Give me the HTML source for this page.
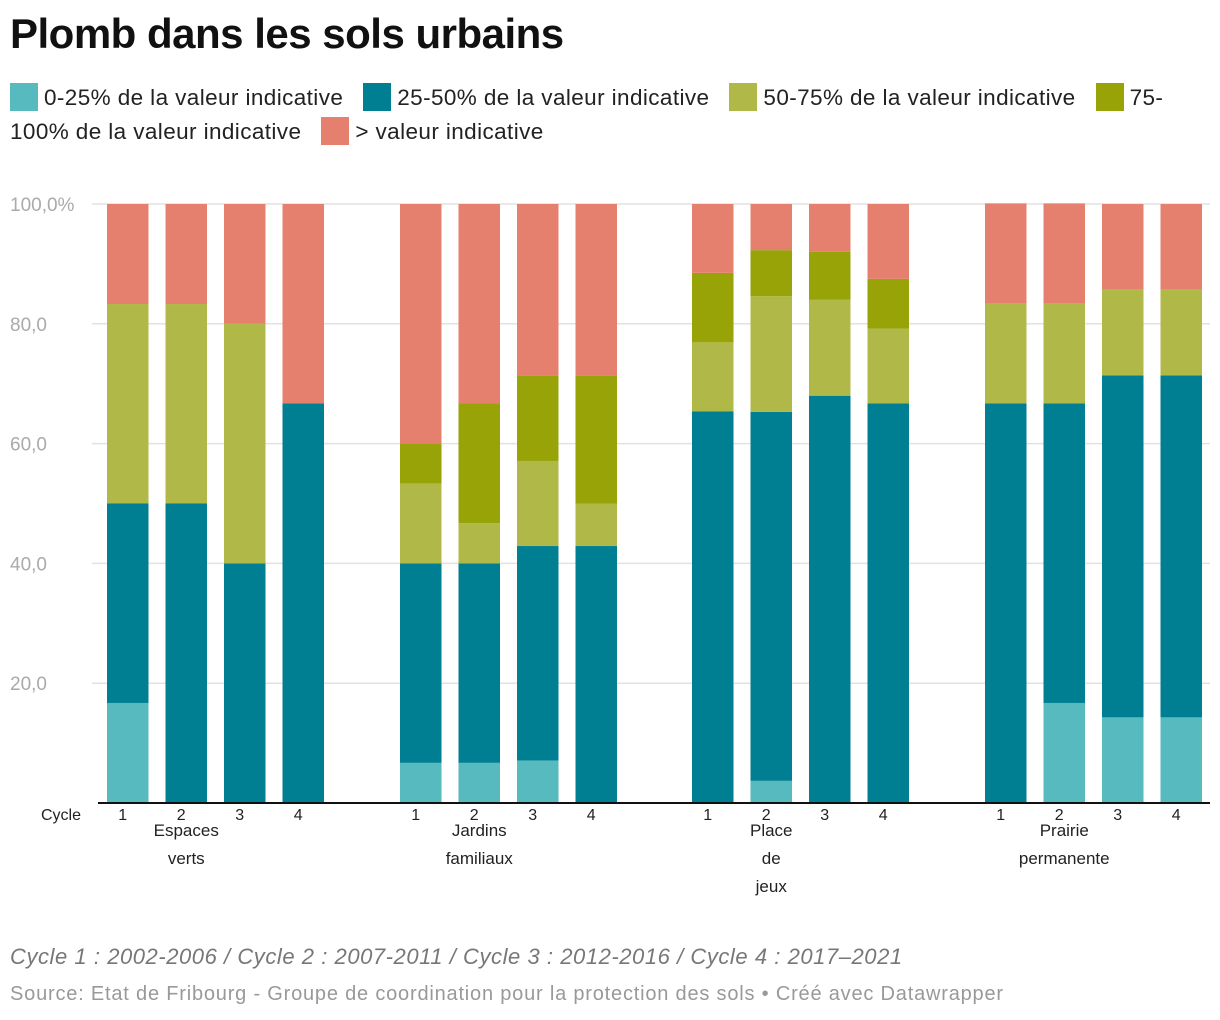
<!DOCTYPE html>
<html><head><meta charset="utf-8"><style>
body{margin:0;background:#fff;width:1220px;height:1020px;overflow:hidden;font-family:"Liberation Sans",sans-serif;position:relative}
.t{position:absolute;white-space:nowrap}
.sw{display:inline-block;width:28px;height:28px;vertical-align:-6px;margin-right:6px}
</style></head><body>
<div class="t" style="left:10px;top:10px;font-size:42px;font-weight:bold;color:#111;letter-spacing:-0.5px">Plomb dans les sols urbains</div>
<div class="t" style="left:10px;top:81px;font-size:22.5px;color:#222;line-height:34px;white-space:normal;width:1200px;letter-spacing:0.4px">
<span><span class="sw" style="background:#56babf"></span>0-25% de la valeur indicative</span>&nbsp;&nbsp;
<span><span class="sw" style="background:#007f93"></span>25-50% de la valeur indicative</span>&nbsp;&nbsp;
<span><span class="sw" style="background:#b0b948"></span>50-75% de la valeur indicative</span>&nbsp;&nbsp;
<span><span class="sw" style="background:#97a307"></span>75-<br>100% de la valeur indicative</span>&nbsp;&nbsp;
<span><span class="sw" style="background:#e5806f"></span>&gt; valeur indicative</span>
</div>
<svg id="c" width="1220" height="1020" style="position:absolute;left:0;top:0"></svg>
<div class="t" style="left:10px;top:944px;font-size:22px;font-style:italic;color:#777;letter-spacing:0.55px">Cycle 1 : 2002-2006 / Cycle 2 : 2007-2011 / Cycle 3 : 2012-2016 / Cycle 4 : 2017–2021</div>
<div class="t" style="left:10px;top:983px;font-size:20px;color:#999;letter-spacing:0.8px">Source: Etat de Fribourg - Groupe de coordination pour la protection des sols • Créé avec Datawrapper</div>
<script>
const groups=[["Espaces","verts"],["Jardins","familiaux"],["Place","de","jeux"],["Prairie","permanente"]];
const cycles=["1","2","3","4"];
const yTicks=[20,40,60,80,100];
const yTickLabels=["20,0","40,0","60,0","80,0","100,0%"];
const colors=["#56babf","#007f93","#b0b948","#97a307","#e5806f"];
const s0=[16.7,0,0,0, 6.7,6.7,7.1,0, 0,3.7,0,0, 0,16.7,14.3,14.3];
const s1=[33.3,50,40,66.7, 33.3,33.3,35.8,42.9, 65.4,61.6,68,66.7, 66.7,50,57.1,57.1];
const s2=[33.3,33.3,40,0, 13.3,6.7,14.2,7.1, 11.5,19.3,16,12.5, 16.7,16.7,14.3,14.3];
const s3=[0,0,0,0, 6.7,20,14.3,21.4, 11.6,7.7,8,8.3, 0,0,0,0];
const s4=[16.7,16.7,20,33.3, 40,33.3,28.6,28.6, 11.5,7.7,8,12.5, 16.7,16.7,14.3,14.3];
const series=[s0,s1,s2,s3,s4];
const svg=document.getElementById('c');const NS="http://www.w3.org/2000/svg";
const y0=803,y100=204;
const y=v=>y0-(y0-y100)*v/100;
const gx=[107,400,692,985],pitch=58.5,bw=41.5;
const x=(g,c)=>gx[g]+c*pitch;
function el(t,a,txt){const e=document.createElementNS(NS,t);for(const k in a)e.setAttribute(k,a[k]);if(txt!=null)e.textContent=txt;svg.appendChild(e);return e;}
yTicks.forEach((v,i)=>{
 const l=el('line',{x1:92,x2:1210,y1:y(v),y2:y(v),stroke:'#e2e2e2','stroke-width':1.5});
 
 
 const t=el('text',{x:10,y:y(v)+7,'font-size':19,fill:'#aaa'},yTickLabels[i]);
 
 
});
groups.forEach((g,gi)=>{
 cycles.forEach((c,ci)=>{
  const idx=gi*4+ci;let cum=0;
  series.forEach((s,si)=>{
   const v=s[idx];if(v<=0)return;
   const r=el('rect',{x:x(gi,ci),y:y(cum+v),width:bw,height:y(cum)-y(cum+v),fill:colors[si]});
   
   
   cum+=v;
  });
  const t=el('text',{x:x(gi,ci)+bw/2-5,y:820,'font-size':16,fill:'#222','text-anchor':'middle'},c);
  
  
 });
 g.forEach((w,li)=>{
  const t=el('text',{x:x(gi,1)+bw/2,y:836+li*28,'font-size':17,fill:'#222','text-anchor':'middle'},w);
  
  
 });
});
const b=el('line',{x1:98,x2:1210,y1:y0,y2:y0,stroke:'#111','stroke-width':2});


const cy=el('text',{x:41,y:820,'font-size':16,fill:'#222'},"Cycle");


</script>
</body></html>
